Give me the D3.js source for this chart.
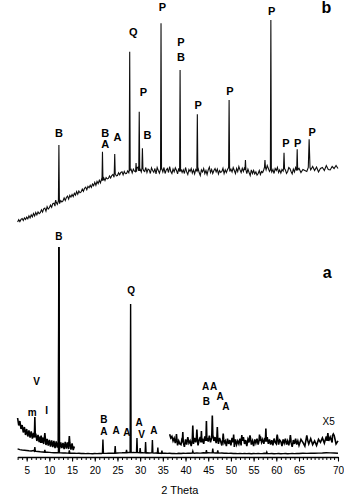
<!DOCTYPE html>
<html>
<head>
<meta charset="utf-8">
<script src="https://cdn.jsdelivr.net/npm/d3@7/dist/d3.min.js"></script>
<style>
  html, body { margin: 0; padding: 0; background: #fff; }
  svg { display: block; }
  text { font-family: "Liberation Sans", Arial, sans-serif; fill: #000; }
</style>
</head>
<body>
<svg id="chart" width="344" height="499"></svg>
<script>
// ---------------- DATA ----------------
// x axis (2 Theta) ticks
const majorTicks = [5, 10, 15, 20, 25, 30, 35, 40, 45, 50, 55, 60, 65, 70];
const minorTicks = d3.range(3, 65, 1).concat(d3.range(65.5, 70, 0.5));

// Panel b: background pattern, sampled from 3 deg every 0.25 deg
const bStart = 3, bStep = 0.25;
const bBackground = [
  31,53,33,56, 64,44,71,55, 78,61,92,71, 102,81,116,91, 126,101,131,114,
  124,152,129,161, 169,139,183,159, 172,199,177,214, 218,189,227,206, 240,214,245,231,
  241,271,245,275, 289,259,297,279, 305,284,318,299, 335,308,340,323, 331,359,337,368,
  378,352,386,372, 398,376,410,392, 426,397,435,414, 448,422,460,443, 469,444,475,462,
  466,490,470,494, 506,478,513,491, 495,522,502,527, 533,502,536,513, 515,541,523,549,
  557,521,559,538, 532,569,578,540, 559,531,567,543, 535,575,525,559, 551,515,571,545,
  527,565,511,575, 545,519,555,567, 531,575,515,551, 565,525,585,535, 515,559,531,571,
  547,511,567,535, 559,525,551,515, 575,531,505,555, 535,565,519,551, 511,555,539,575,
  525,495,551,531, 565,515,545,505, 551,579,525,555, 515,545,565,531, 559,511,545,525,
  535,567,515,551, 525,555,575,535, 559,531,575,545, 515,565,535,585, 551,525,567,535,
  575,551,515,559, 525,495,551,515, 545,511,531,499, 515,545,505,535, 525,555,575,551,
  595,565,535,551, 531,555,515,565, 545,575,525,551, 519,555,539,565, 551,515,535,575,
  565,535,511,559, 531,575,545,555, 567,525,555,545, 535,575,551,585, 545,579,531,565,
  575,545,595,555, 551,585,565,595, 565
];
// Panel b peaks: [2 Theta, intensity at top]
const bPeaks = [
  [11.4, 250], [12.1, 800], [21.7, 733], [24.4, 710], [27.7, 1733], [29.1, 620],
  [29.8, 1133], [30.5, 767], [34.6, 2017], [38.8, 1550], [42.6, 1107], [49.6, 1250],
  [53.2, 650], [57.5, 650], [58.8, 2050], [61.7, 723], [64.6, 757], [66.3, 857]
];
// Panel b phase labels: [text, 2 Theta, intensity]
const bLabels = [
  ["B", 12.1, 917], ["B", 22.3, 917], ["A", 22.3, 807], ["A", 25.0, 883],
  ["Q", 28.5, 1933], ["P", 30.7, 1327], ["B", 31.6, 900], ["P", 34.9, 2183],
  ["P", 39.0, 1833], ["B", 39.0, 1677], ["P", 42.8, 1200], ["P", 49.8, 1343],
  ["P", 59.0, 2143], ["P", 62.1, 817], ["P", 64.7, 817], ["P", 66.7, 927]
];

// Panel a, original pattern: sampled from 3 deg every 0.5 deg
const aStart = 3, aStep = 0.5;
const aBackground = [
  72,64,60,58,55,52,50,55,48,45,42,40,38,37,36,34,33,32,32,31,
  30,30,29,28,28,27,26,27,25,26,24,25,24,23,25,24,26,25,27,26,
  28,27,29,28,30,31,32,34,33,35,34,36,34,35,33,34,31,32,30,31,
  29,30,28,29,27,28,26,27,25,26,24,27,25,28,26,29,27,30,28,31,
  29,30,32,30,33,31,34,30,32,29,30,27,28,26,27,25,26,24,25,24,
  26,24,25,23,25,24,26,24,25,27,26,24,25,23,24,25,23,24,25,23,
  24,25,24,26,25,27,26,28,27,29,30,32,31,30,28
];
const aPeaks = [
  [6.8, 90], [9.0, 60], [12.1, 2090], [14.4, 55], [21.8, 165], [24.5, 100],
  [27.0, 62], [27.9, 1520], [29.3, 180], [30.0, 80], [31.2, 140], [32.7, 160],
  [33.9, 85], [34.8, 55], [41.6, 48], [44.6, 58], [46.0, 75], [47.1, 55], [57.9, 40]
];

// Panel a, X5 magnified pattern, low-angle part (3 - 15.5 deg, every 0.25 deg)
const x5aStart = 3, x5Step = 0.25;
const x5aBackground = [
  380,305,350,270,310,235,290,210,270,195,255,185,245,175,230,185,225,150,210,140,
  195,130,185,120,180,110,170,105,160,95,155,90,150,80,145,85,140,75,135,80,
  130,70,140,75,135,70,130,65,125,60,95
];
const x5aPeaks = [[6.8, 390], [8.2, 205], [9.0, 230], [12.1, 2090], [14.4, 200]];

// Panel a, X5 magnified pattern, high-angle part (36.5 - 70 deg, every 0.25 deg)
const x5bStart = 36.5;
const x5bBackground = [
  218,181,
  196,151,178,129, 163,106,151,121, 114,181,136,91, 166,114,189,129, 151,99,166,121,
  181,136,174,106, 159,189,136,174, 121,196,151,181, 144,204,136,181, 211,151,189,129,
  174,121,181,144, 106,166,129,151, 99,174,121,159, 106,181,136,91, 166,114,151,121,
  174,106,151,189, 121,159,99,166, 136,181,114,151, 99,166,129,174, 114,151,196,136,
  166,121,181,144, 189,121,166,114, 159,106,174,136, 121,181,114,159, 144,99,166,129,
  174,114,151,106, 166,136,91,159, 121,174,114,151, 106,166,136,99, 159,121,174,114,
  151,106,166,136, 181,129,196,151, 189,136,204,121, 151
];
const x5bPeaks = [
  [38.0, 220], [39.4, 240], [41.6, 305], [42.5, 265], [43.5, 250], [44.6, 350],
  [45.9, 405], [47.0, 290], [48.3, 225], [50.6, 215], [52.4, 210], [54.2, 205],
  [56.3, 215], [57.7, 275], [60.2, 215], [63.1, 210], [66.0, 205], [68.7, 230], [69.4, 220]
];

// Panel a phase labels: [text, 2 Theta, intensity]
const aLabels = [
  ["V", 7.2, 743], ["m", 6.2, 433], ["I", 9.4, 460], ["B", 12.1, 2200],
  ["Q", 28.0, 1653], ["B", 22.0, 362], ["A", 22.0, 250], ["A", 24.7, 260],
  ["A", 27.1, 233], ["A", 29.8, 340], ["V", 30.3, 217], ["A", 33.0, 260],
  ["A", 44.4, 693], ["A", 46.2, 693], ["B", 44.6, 543], ["A", 47.6, 600], ["A", 48.9, 493]
];
const x5Label = ["X5", 68.8, 343];
const panelTags = [["b", 68.5, 2177], ["a", 68.6, 1837]];

// ---------------- DRAWING ----------------
const svg = d3.select("#chart");
const x = d3.scaleLinear().domain([3, 65, 70]).range([17.6, 299, 338]);
const yB = d3.scaleLinear().domain([0, 2100]).range([225, 15]);
const yA = d3.scaleLinear().domain([0, 2100]).range([456, 246]);

const halfW = 0.11; // peak foot half width (deg)
function buildSeries(start, step, values, peaks) {
  let pts = values.map((v, i) => [start + i * step, v]);
  pts = pts.filter(p => !peaks.some(pk => Math.abs(p[0] - pk[0]) < halfW));
  const last = start + (values.length - 1) * step;
  peaks.forEach(([t, top]) => {
    if (t < start || t > last) return;
    const i = Math.max(0, Math.min(values.length - 1, Math.round((t - start) / step)));
    const foot = values[i];
    pts.push([t - halfW, foot], [t, top], [t + halfW, foot]);
  });
  pts.sort((a, b) => a[0] - b[0]);
  return pts;
}

function drawLine(pts, yScale, width, color) {
  const line = d3.line().x(d => x(d[0])).y(d => yScale(d[1]));
  svg.append("path").datum(pts)
    .attr("d", line)
    .attr("fill", "none")
    .attr("stroke", color)
    .attr("stroke-width", width)
    .attr("stroke-linejoin", "miter");
}

// panel b
drawLine(buildSeries(bStart, bStep, bBackground, bPeaks), yB, 1.1, "#0d0d0d");
// panel a
drawLine(buildSeries(aStart, aStep, aBackground, aPeaks), yA, 1.4, "#000");
drawLine(buildSeries(x5aStart, x5Step, x5aBackground, x5aPeaks), yA, 1.6, "#000");
drawLine(buildSeries(x5bStart, x5Step, x5bBackground, x5bPeaks), yA, 1.6, "#000");

function drawLabels(labels, yScale, size) {
  svg.append("g").selectAll("text").data(labels).join("text")
    .attr("x", d => x(d[1]))
    .attr("y", d => yScale(d[2]))
    .attr("dy", "0.36em")
    .attr("text-anchor", "middle")
    .attr("font-size", size)
    .attr("font-weight", "bold")
    .text(d => d[0]);
}
drawLabels(bLabels, yB, 11);
drawLabels(aLabels, yA, 10);

svg.append("text")
  .attr("x", x(x5Label[1])).attr("y", yA(x5Label[2])).attr("dy", "0.36em")
  .attr("text-anchor", "middle").attr("font-size", 10).text(x5Label[0]);

svg.append("text")
  .attr("x", x(panelTags[0][1])).attr("y", yB(panelTags[0][2])).attr("dy", "0.36em")
  .attr("text-anchor", "middle").attr("font-size", 16).attr("font-weight", "bold").text(panelTags[0][0]);
svg.append("text")
  .attr("x", x(panelTags[1][1])).attr("y", yA(panelTags[1][2])).attr("dy", "0.36em")
  .attr("text-anchor", "middle").attr("font-size", 16).attr("font-weight", "bold").text(panelTags[1][0]);

// x axis
const axisY = 457;
const gMinor = svg.append("g").attr("transform", `translate(0,${axisY})`)
  .call(d3.axisBottom(x).tickValues(minorTicks).tickSize(3).tickSizeOuter(0).tickFormat(""));
gMinor.select(".domain").remove();
gMinor.selectAll("line").attr("stroke", "#000").attr("stroke-width", 1);

const gMajor = svg.append("g").attr("transform", `translate(0,${axisY})`)
  .call(d3.axisBottom(x).tickValues(majorTicks).tickSize(4.5).tickSizeOuter(0).tickPadding(5.5).tickFormat(d3.format("d")));
gMajor.select(".domain").attr("stroke", "#000").attr("stroke-width", 1.5);
gMajor.selectAll("line").attr("stroke", "#000").attr("stroke-width", 1.1);
gMajor.selectAll("text").attr("font-size", 10).attr("font-family", "Liberation Sans, Arial, sans-serif").attr("fill", "#000");

svg.append("text")
  .attr("x", (x(3) + x(70)) / 2 + 2).attr("y", 494)
  .attr("text-anchor", "middle").attr("font-size", 11).text("2 Theta");
</script>
</body>
</html>
